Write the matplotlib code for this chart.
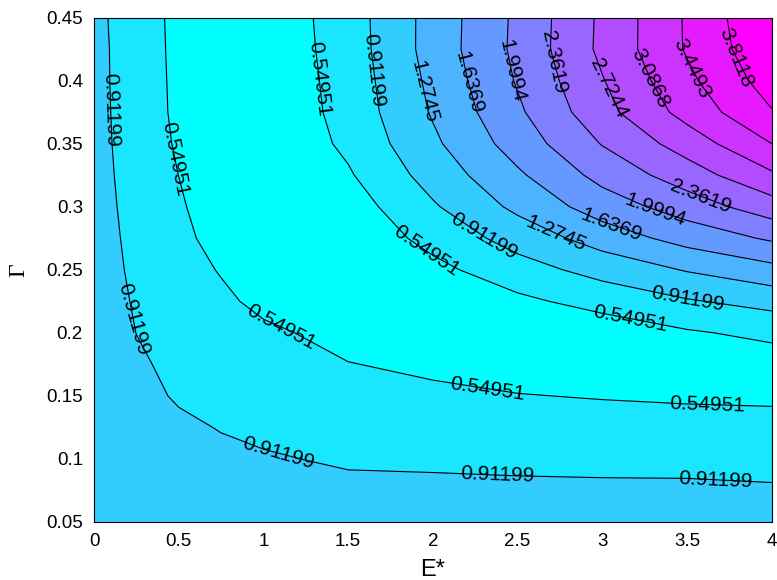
import matplotlib
matplotlib.use("Agg")
import matplotlib.pyplot as plt
import numpy as np

e_star = [0, 0.25, 0.5, 0.75, 1.0, 1.5, 2.0, 2.5, 3.0, 3.5, 4.0]
gamma = [0.05, 0.075, 0.1, 0.125, 0.15, 0.175, 0.2, 0.225, 0.25,
         0.275, 0.3, 0.325, 0.35, 0.375, 0.4, 0.425, 0.45]

# one row per gamma value (bottom to top), one column per E*
values = [
    [1.22, 1.15, 1.12, 1.10, 1.09, 1.07, 1.09, 1.10, 1.10, 1.11, 1.10],
    [1.19, 1.11, 1.07, 1.04, 1.02, 0.98, 0.978, 0.974, 0.97, 0.97, 0.95],
    [1.16, 1.07, 1.02, 0.97, 0.94, 0.876, 0.862, 0.84, 0.827, 0.819, 0.799],
    [1.13, 1.03, 0.96, 0.90, 0.85, 0.77, 0.737, 0.70, 0.68, 0.664, 0.649],
    [1.11, 0.99, 0.885, 0.83, 0.77, 0.664, 0.612, 0.561, 0.532, 0.51, 0.50],
    [1.09, 0.945, 0.857, 0.77, 0.70, 0.56, 0.487, 0.42, 0.39, 0.38, 0.37],
    [1.08, 0.910, 0.812, 0.70, 0.616, 0.435, 0.35, 0.30, 0.33, 0.51, 0.634],
    [1.07, 0.883, 0.751, 0.619, 0.462, 0.232, 0.26, 0.47, 0.684, 0.879, 1.035],
    [1.06, 0.853, 0.694, 0.526, 0.328, 0.205, 0.45, 0.768, 1.039, 1.30, 1.525],
    [1.05, 0.829, 0.642, 0.42, 0.251, 0.267, 0.669, 1.053, 1.439, 1.775, 2.05],
    [1.04, 0.805, 0.596, 0.346, 0.214, 0.371, 0.871, 1.358, 1.813, 2.174, 2.56],
    [1.03, 0.783, 0.547, 0.299, 0.21, 0.51, 1.056, 1.58, 2.116, 2.547, 3.03],
    [1.02, 0.766, 0.507, 0.278, 0.223, 0.623, 1.207, 1.798, 2.38, 2.888, 3.45],
    [1.015, 0.754, 0.479, 0.271, 0.239, 0.681, 1.308, 1.939, 2.602, 3.215, 3.79],
    [1.01, 0.747, 0.472, 0.274, 0.253, 0.702, 1.361, 2.031, 2.704, 3.369, 3.98],
    [1.01, 0.740, 0.464, 0.277, 0.268, 0.725, 1.415, 2.083, 2.803, 3.484, 4.10],
    [1.00, 0.732, 0.458, 0.283, 0.280, 0.739, 1.41, 2.072, 2.794, 3.491, 4.17],
]

levels = [0.18703, 0.54951, 0.91199, 1.2745, 1.6369, 1.9994,
          2.3619, 2.7244, 3.0868, 3.4493, 3.8118, 4.1743]

# where the contour labels sit (E*, gamma)
label_spots = [
    (0.083, 0.377), (0.21, 0.21), (1.09, 0.107), (2.38, 0.085), (3.67, 0.083),
    (0.46, 0.337), (1.09, 0.20), (2.32, 0.154), (3.62, 0.140),
    (1.35, 0.402), (1.96, 0.264), (3.16, 0.206),
    (1.66, 0.408), (2.29, 0.274), (3.50, 0.226),
    (1.94, 0.391), (2.71, 0.274),
    (2.20, 0.398), (3.05, 0.284),
    (2.45, 0.407), (3.31, 0.296),
    (2.70, 0.414), (3.57, 0.304),
    (3.01, 0.392), (3.25, 0.400), (3.51, 0.408), (3.76, 0.416),
]

plt.rcParams["font.family"] = "Liberation Sans"

E, G = np.meshgrid(e_star, gamma)
Z = np.array(values)

fig = plt.figure(figsize=(7.77, 5.8), dpi=100)
ax = fig.add_axes([0.121, 0.1, 0.8722, 0.8698])

fill_colors = plt.cm.cool(np.linspace(0, 1, len(levels) - 1))
ax.contourf(E, G, Z, levels=levels, colors=fill_colors)
lines = ax.contour(E, G, Z, levels=levels[1:-1], colors="k", linewidths=0.8)
ax.clabel(lines, manual=label_spots, inline=False, fontsize=15, fmt="%g",
          colors="k")

ax.set_xlim(0, 4)
ax.set_ylim(0.05, 0.45)
ax.set_xticks(np.arange(0, 4.01, 0.5))
ax.set_yticks(np.arange(0.05, 0.451, 0.05))
ax.xaxis.set_major_formatter(plt.FormatStrFormatter("%g"))
ax.yaxis.set_major_formatter(plt.FormatStrFormatter("%g"))
ax.tick_params(length=0, labelsize=13.5, pad=8)
for spine in ax.spines.values():
    spine.set_linewidth(0.8)

ax.set_xlabel("E*", fontsize=17)
ax.xaxis.set_label_coords(0.5, -0.074)
ax.set_ylabel("Γ", fontsize=17, family="Liberation Serif")
ax.yaxis.set_label_coords(-0.095, 0.5)

fig.savefig("out.png", dpi=100)
